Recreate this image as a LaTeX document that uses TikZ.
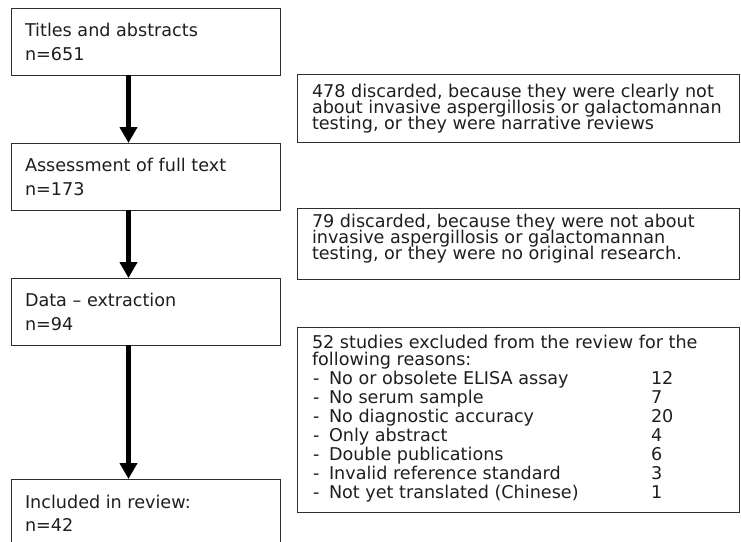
\documentclass[tikz,border=0pt]{standalone}
\usepackage{fontspec}
\setmainfont{DejaVu Sans}
\usetikzlibrary{arrows.meta}
\definecolor{ink}{HTML}{1E1E1E}
\definecolor{frame}{HTML}{2E2E2E}
\begin{document}
\begin{tikzpicture}[x=1pt,y=-1pt,
  box/.style={draw=frame,line width=1pt,anchor=north west,inner sep=0pt,outer sep=0pt},
  txt/.style={anchor=base west,inner sep=0pt,outer sep=0pt,text=ink,font=\fontsize{17.6}{16}\selectfont},
  flow/.style={line width=5.5pt,draw=black,-{Triangle[width=17pt,length=16pt]}}]
\useasboundingbox (0,0) rectangle (741,541);
\clip (0,0) rectangle (741,541);

% stages of the selection
\node[box,minimum width=269pt,minimum height=67pt] (s1) at (11,8) {};
\node[box,minimum width=269pt,minimum height=67pt] (s2) at (11,143) {};
\node[box,minimum width=269pt,minimum height=67pt] (s3) at (11,278) {};
\node[box,minimum width=269pt,minimum height=90pt] (s4) at (11,479) {};

\node[txt] (s1a) at (25,36) {Titles and abstracts};
\node[txt] (s1b) at (25,60) {n=651};
\node[txt] (s2a) at (25,171.5) {Assessment of full text};
\node[txt] (s2b) at (25,195) {n=173};
\node[txt] (s3a) at (25,306.5) {Data – extraction};
\node[txt] (s3b) at (25,330) {n=94};
\node[txt] (s4a) at (25,508) {Included in review:};
\node[txt] (s4b) at (25,531.5) {n=42};

% exclusion notes
\node[box,minimum width=442.5pt,minimum height=68.5pt] (r1) at (297,74) {};
\node[box,minimum width=442.5pt,minimum height=71pt] (r2) at (297,208) {};
\node[box,minimum width=442.5pt,minimum height=185pt] (r3) at (297,327) {};

\node[txt] (r1a) at (312,97) {478 discarded, because they were clearly not};
\node[txt] (r1b) at (312,113) {about invasive aspergillosis or galactomannan};
\node[txt] (r1c) at (312,129) {testing, or they were narrative reviews};

\node[txt] (r2a) at (312,227) {79 discarded, because they were not about};
\node[txt] (r2b) at (312,243) {invasive aspergillosis or galactomannan};
\node[txt] (r2c) at (312,259) {testing, or they were no original research.};

\node[txt] (r3a) at (312,348) {52 studies excluded from the review for the};
\node[txt] (r3b) at (312,365) {following reasons:};
\foreach \lbl/\num [count=\i from 0] in {
    No or obsolete ELISA assay/12,
    No serum sample/7,
    No diagnostic accuracy/20,
    Only abstract/4,
    Double publications/6,
    Invalid reference standard/3,
    Not yet translated (Chinese)/1}{
  \node[txt] (d\i) at (313,384+19*\i) {-};
  \node[txt] (l\i) at (329,384+19*\i) {\lbl};
  \node[txt] (n\i) at (651,384+19*\i) {\num};
}

% flow between stages
\draw[flow] ([xshift=117.5pt]s1.south west) -- ([xshift=117.5pt]s2.north west);
\draw[flow] ([xshift=117.5pt]s2.south west) -- ([xshift=117.5pt]s3.north west);
\draw[flow] ([xshift=117.5pt]s3.south west) -- ([xshift=117.5pt]s4.north west);
\end{tikzpicture}
\end{document}
